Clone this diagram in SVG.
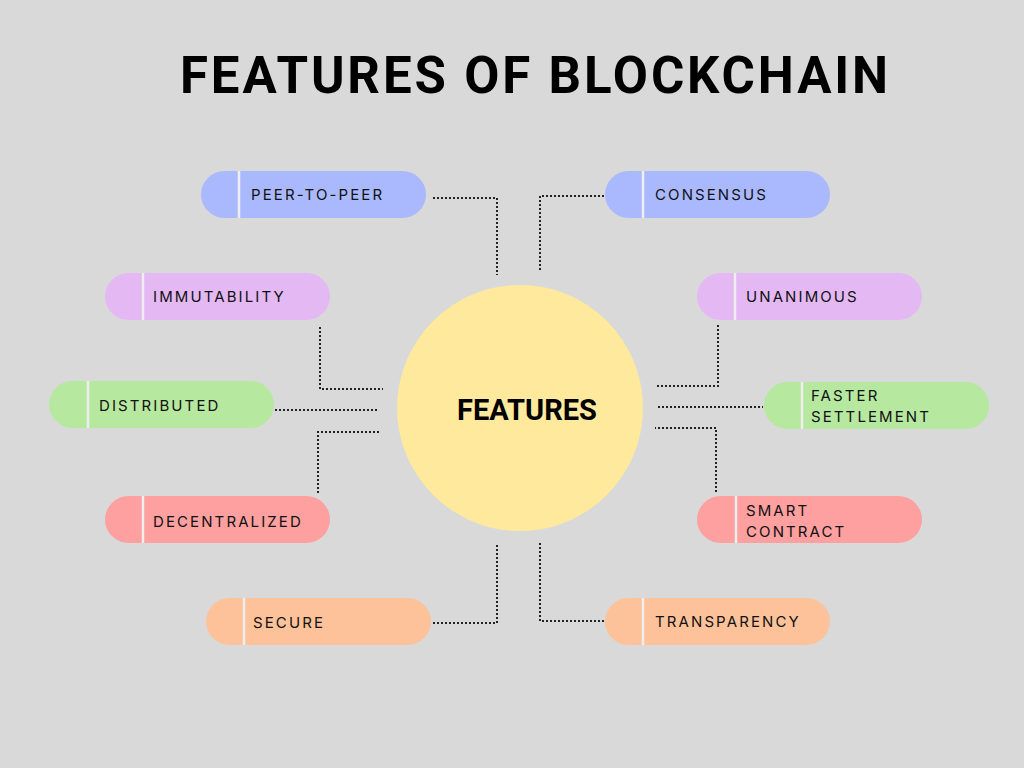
<svg xmlns="http://www.w3.org/2000/svg" width="1024" height="768" viewBox="0 0 1024 768">
<style>
.bg{fill:#d9d9d9}
.title{font-family:Roboto,"Liberation Sans",sans-serif;font-weight:700;font-size:51px;fill:#000}
.lbl{font-family:Inter,"Liberation Sans",sans-serif;font-size:15px;letter-spacing:2.1px;fill:#111}
.ctr{font-family:Roboto,"Liberation Sans",sans-serif;font-weight:700;font-size:29px;fill:#000}
.div{stroke:#eeeeee;stroke-width:2.5}
.con{fill:none;stroke:#222;stroke-width:2;stroke-dasharray:2 2}
.blue{fill:#aab9fd}
.violet{fill:#e4b8f3}
.green{fill:#b6e8a0}
.red{fill:#fea0a0}
.orange{fill:#fec29a}
</style>
<rect class="bg" width="1024" height="768"/>
<text class="title" x="180" y="93" textLength="708" lengthAdjust="spacing">FEATURES OF BLOCKCHAIN</text>

<g id="connectors">
<path class="con" d="M433 198 H497 V275"/>
<path class="con" d="M604 196 H540 V272"/>
<path class="con" d="M320 327 V389 H383"/>
<path class="con" d="M275 410 H379"/>
<path class="con" d="M318 493 V432 H381"/>
<path class="con" d="M718 325 V386 H656"/>
<path class="con" d="M658 407 H763"/>
<path class="con" d="M716 492 V428 H655"/>
<path class="con" d="M433 623 H497 V545"/>
<path class="con" d="M540 543 V621 H604"/>
</g>

<g id="center">
<circle cx="520" cy="408" r="123" fill="#fee99c"/>
<text class="ctr" x="527" y="420" text-anchor="middle">FEATURES</text>
</g>

<g id="peer">
<rect class="blue" x="201" y="171" width="225" height="47" rx="23.5"/>
<line class="div" x1="239" y1="171" x2="239" y2="218"/>
<text class="lbl" x="251" y="200">PEER-TO-PEER</text>
</g>
<g id="consensus">
<rect class="blue" x="605" y="171" width="225" height="47" rx="23.5"/>
<line class="div" x1="643" y1="171" x2="643" y2="218"/>
<text class="lbl" x="655" y="200">CONSENSUS</text>
</g>
<g id="immutability">
<rect class="violet" x="105" y="273" width="225" height="47" rx="23.5"/>
<line class="div" x1="143" y1="273" x2="143" y2="320"/>
<text class="lbl" x="153" y="302">IMMUTABILITY</text>
</g>
<g id="unanimous">
<rect class="violet" x="697" y="273" width="225" height="47" rx="23.5"/>
<line class="div" x1="735" y1="273" x2="735" y2="320"/>
<text class="lbl" x="746" y="302">UNANIMOUS</text>
</g>
<g id="distributed">
<rect class="green" x="49" y="381" width="225" height="47" rx="23.5"/>
<line class="div" x1="88" y1="381" x2="88" y2="428"/>
<text class="lbl" x="99" y="411">DISTRIBUTED</text>
</g>
<g id="faster">
<rect class="green" x="764" y="382" width="225" height="47" rx="23.5"/>
<line class="div" x1="802" y1="382" x2="802" y2="429"/>
<text class="lbl" x="811" y="401">FASTER</text>
<text class="lbl" x="811" y="422">SETTLEMENT</text>
</g>
<g id="decentralized">
<rect class="red" x="105" y="496" width="225" height="47" rx="23.5"/>
<line class="div" x1="143" y1="496" x2="143" y2="543"/>
<text class="lbl" x="153" y="527">DECENTRALIZED</text>
</g>
<g id="smart">
<rect class="red" x="697" y="496" width="225" height="47" rx="23.5"/>
<line class="div" x1="736" y1="496" x2="736" y2="543"/>
<text class="lbl" x="746" y="516">SMART</text>
<text class="lbl" x="746" y="537">CONTRACT</text>
</g>
<g id="secure">
<rect class="orange" x="206" y="598" width="225" height="47" rx="23.5"/>
<line class="div" x1="244" y1="598" x2="244" y2="645"/>
<text class="lbl" x="253" y="628">SECURE</text>
</g>
<g id="transparency">
<rect class="orange" x="605" y="598" width="225" height="47" rx="23.5"/>
<line class="div" x1="643" y1="598" x2="643" y2="645"/>
<text class="lbl" x="655" y="627">TRANSPARENCY</text>
</g>
</svg>
